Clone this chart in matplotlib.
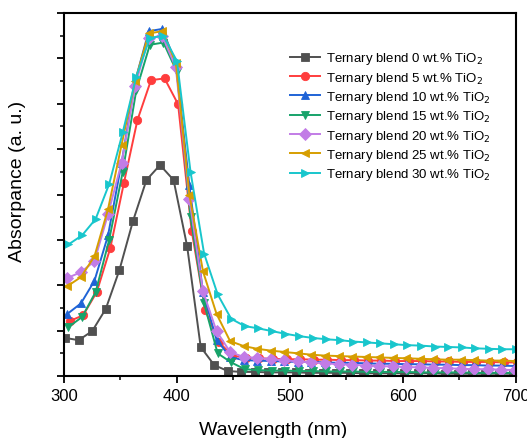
import matplotlib
matplotlib.use("Agg")
import matplotlib.pyplot as plt
from matplotlib.ticker import MultipleLocator
import numpy as np

plt.rcParams['font.family'] = ['Liberation Sans', 'DejaVu Sans']

labels = ["Ternary blend 0 wt.% TiO$_2$", "Ternary blend 5 wt.% TiO$_2$",
          "Ternary blend 10 wt.% TiO$_2$", "Ternary blend 15 wt.% TiO$_2$",
          "Ternary blend 20 wt.% TiO$_2$", "Ternary blend 25 wt.% TiO$_2$",
          "Ternary blend 30 wt.% TiO$_2$"]
colors = ["#505050", "#ff3d3d", "#1f63d6", "#17a36a", "#c27ce6", "#d69e00", "#18c6cc"]
markers = ["s", "o", "^", "v", "D", "<", ">"]
x_start = [301, 305, 303, 304, 303, 303, 304]
x_step = 12

y_0 = [0.84, 0.79, 0.99, 1.48, 2.33, 3.41, 4.32, 4.65, 4.32, 2.86, 0.64, 0.24, 0.11, 0.09,
       0.09, 0.08, 0.08, 0.08, 0.07, 0.07, 0.07, 0.07, 0.06, 0.06, 0.06, 0.06, 0.06, 0.06,
       0.05, 0.05, 0.05, 0.05, 0.05, 0.05]
y_5 = [1.21, 1.34, 1.85, 2.82, 4.25, 5.64, 6.52, 6.56, 5.99, 3.2, 1.45, 0.75, 0.45, 0.4,
       0.39, 0.38, 0.37, 0.37, 0.36, 0.36, 0.35, 0.35, 0.34, 0.34, 0.33, 0.33, 0.33, 0.32,
       0.32, 0.31, 0.31, 0.31, 0.3, 0.3]
y_10 = [1.37, 1.6, 2.1, 3.1, 4.7, 6.5, 7.6, 7.65, 6.9, 4.2, 1.85, 0.8, 0.42, 0.35,
        0.34, 0.33, 0.32, 0.31, 0.31, 0.3, 0.29, 0.29, 0.28, 0.27, 0.27, 0.26, 0.26, 0.25,
        0.25, 0.24, 0.24, 0.23, 0.23, 0.22]
y_15 = [1.08, 1.3, 1.85, 3.0, 4.5, 6.3, 7.3, 7.35, 6.7, 3.5, 1.6, 0.5, 0.3, 0.15,
        0.13, 0.12, 0.12, 0.11, 0.11, 0.1, 0.1, 0.1, 0.09, 0.09, 0.09, 0.09, 0.08, 0.08,
        0.08, 0.08, 0.07, 0.07, 0.07, 0.07]
y_20 = [2.16, 2.29, 2.53, 3.57, 4.7, 6.4, 7.45, 7.5, 6.8, 3.9, 1.87, 0.99, 0.53, 0.42,
        0.4, 0.37, 0.35, 0.32, 0.3, 0.28, 0.26, 0.25, 0.23, 0.22, 0.21, 0.2, 0.19, 0.18,
        0.17, 0.16, 0.15, 0.15, 0.14, 0.13]
y_25 = [1.98, 2.18, 2.64, 3.68, 5.1, 6.5, 7.55, 7.6, 6.9, 4.0, 2.31, 1.37, 0.77, 0.66,
        0.6, 0.56, 0.53, 0.5, 0.47, 0.45, 0.44, 0.43, 0.42, 0.41, 0.4, 0.39, 0.38, 0.37,
        0.36, 0.36, 0.35, 0.34, 0.34, 0.33]
y_30 = [2.9, 3.1, 3.46, 4.23, 5.37, 6.6, 7.45, 7.5, 6.94, 4.5, 2.7, 1.8, 1.26, 1.1,
        1.05, 0.99, 0.93, 0.88, 0.84, 0.81, 0.79, 0.76, 0.74, 0.72, 0.7, 0.68, 0.67, 0.65,
        0.64, 0.63, 0.61, 0.6, 0.59, 0.59]
series = [y_0, y_5, y_10, y_15, y_20, y_25, y_30]

fig = plt.figure(figsize=(5.27, 4.39), dpi=100)
ax = fig.add_axes([0.1214, 0.1412, 0.8576, 0.8268])

for ys, xs0, c, m, lab in zip(series, x_start, colors, markers, labels):
    xs = xs0 + x_step * np.arange(len(ys))
    ax.plot(xs, ys, color=c, marker=m, markersize=6, linewidth=1.4, label=lab,
            markeredgewidth=0.6)

ax.set_xlim(300, 700)
ax.set_ylim(0, 8)
ax.xaxis.set_major_locator(MultipleLocator(100))
ax.xaxis.set_minor_locator(MultipleLocator(50))
ax.yaxis.set_major_locator(MultipleLocator(1))
ax.yaxis.set_minor_locator(MultipleLocator(0.5))
ax.tick_params(axis='both', which='major', direction='out', length=5, width=1.3,
               labelsize=12, top=False, right=False)
ax.tick_params(axis='both', which='minor', direction='out', length=3, width=1.1,
               top=False, right=False)
ax.set_yticklabels([])
for sp in ax.spines.values():
    sp.set_linewidth(1.5)

ax.set_xlabel("Wavelength (nm)", fontsize=14)
ax.set_ylabel("Absorpance (a. u.)", fontsize=14)
ax.xaxis.set_label_coords(0.462, -0.125)
ax.yaxis.set_label_coords(-0.085, 0.54)

leg = ax.legend(loc='upper left', bbox_to_anchor=(0.5, 0.897), frameon=False,
                fontsize=9.5, handlelength=2.3, labelspacing=0.25, handletextpad=0.4,
                borderpad=0, borderaxespad=0)

fig.savefig("out.png", dpi=100)
